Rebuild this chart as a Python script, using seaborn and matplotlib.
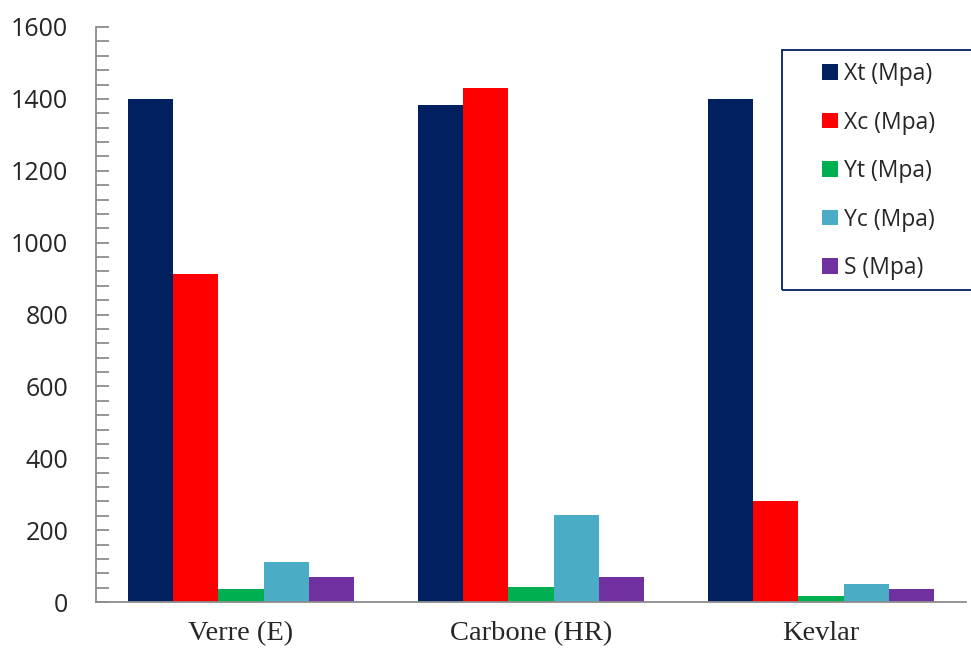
import numpy as np
import pandas as pd
import matplotlib
matplotlib.use("Agg")
import matplotlib.pyplot as plt
from matplotlib.patches import Rectangle
from matplotlib.ticker import MultipleLocator
import seaborn as sns

materials = ["Verre (E)", "Carbone (HR)", "Kevlar"]
series = ["Xt (Mpa)", "Xc (Mpa)", "Yt (Mpa)", "Yc (Mpa)", "S (Mpa)"]
xt = [1400, 1382, 1400]
xc = [912, 1430, 281]
yt = [36, 42, 17]
yc = [111, 242, 51]
s = [70, 70, 36]
colors = ["#002060", "#FF0000", "#00B050", "#4BACC6", "#7030A0"]

df = pd.DataFrame({
    "material": np.repeat(materials, len(series)),
    "prop": series * len(materials),
    "value": np.array([xt, xc, yt, yc, s]).T.ravel(),
})

sns.set_style("white")
fig = plt.figure(figsize=(9.71, 6.5), dpi=100)
ax = fig.add_axes([96 / 971, 48 / 650, 870 / 971, 575 / 650])

sns.barplot(data=df, x="material", y="value", hue="prop", order=materials,
            hue_order=series, palette=colors, width=0.776, saturation=1,
            errorbar=None, linewidth=0, ax=ax)

ax.set_ylim(0, 1600)
ax.set_xlim(-0.5, 2.5)
ax.yaxis.set_major_locator(MultipleLocator(200))
ax.yaxis.set_minor_locator(MultipleLocator(40))
ax.tick_params(axis="y", which="both", direction="in", length=9, width=1.3,
               color="#8c8c8c", left=True, labelsize=18, pad=20)
ax.tick_params(axis="x", length=0, labelsize=20.5, pad=14)
for lab in ax.get_yticklabels():
    lab.set_family("Open Sans")
for lab in ax.get_xticklabels():
    lab.set_family("Liberation Serif")
ax.set_xlabel("")
ax.set_ylabel("")
for side in ["top", "right"]:
    ax.spines[side].set_visible(False)
for side in ["left", "bottom"]:
    ax.spines[side].set_color("#8c8c8c")
    ax.spines[side].set_linewidth(1.3)

# legend frame drawn separately (reference box runs off the right edge)
fig.patches.append(Rectangle((782 / 971, 1 - 290 / 650), 200 / 971, 240 / 650,
                             transform=fig.transFigure, fill=False,
                             edgecolor="#002060", linewidth=1.3))
leg = ax.legend(loc="upper left", bbox_to_anchor=(822 / 971, 1 - 62 / 650),
                bbox_transform=fig.transFigure, borderaxespad=0, borderpad=0,
                prop={"family": "Open Sans", "size": 16.5},
                handlelength=0.68, handleheight=0.68, handletextpad=0.3,
                labelspacing=1.07, frameon=False)

fig.savefig("out.png", dpi=100)
